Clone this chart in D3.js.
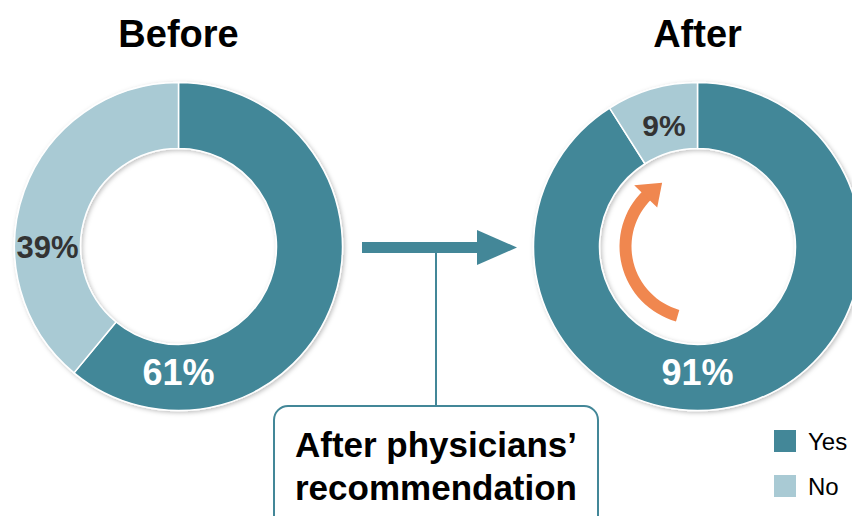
<!DOCTYPE html>
<meta charset="utf-8">
<style>
  body { margin: 0; background: #fff; }
  svg { display: block; font-family: "Liberation Sans", Arial, sans-serif; }
</style>
<body>
<div id="chart"></div>
<script src="https://d3js.org/d3.v7.min.js"></script>
<script>
  var categories = ["Yes", "No"];
  var before = [61, 39];
  var after = [91, 9];
  var titles = ["Before", "After"];
  var labelAngles = [[180, 270], [180, null]];   // null -> use slice centroid
  var boxLines = ["After physicians\u2019", "recommendation"];

  var width = 852, height = 516;
  var outerR = 164, innerR = 98;
  var colors = d3.scaleOrdinal().domain(categories).range(["#438798", "#a9cad4"]);
  var teal = "#438798";

  var svg = d3.select("#chart").append("svg")
    .attr("width", width)
    .attr("height", height);

  var defs = svg.append("defs");
  var shadow = defs.append("filter").attr("id", "shadow")
    .attr("x", "-10%").attr("y", "-10%").attr("width", "120%").attr("height", "120%");
  shadow.append("feDropShadow")
    .attr("dx", 1.5).attr("dy", 1.5).attr("stdDeviation", 2)
    .attr("flood-color", "#000").attr("flood-opacity", 0.25);

  var pie = d3.pie().sort(null).value(d => d.value);
  var arc = d3.arc().innerRadius(innerR).outerRadius(outerR);

  var centers = [[178.5, 246.5], [697.5, 246.5]];

  [before, after].forEach(function(vals, i) {
    var data = categories.map((c, j) => ({cat: c, value: vals[j]}));
    var g = svg.append("g").attr("transform", "translate(" + centers[i] + ")");

    g.append("g").attr("filter", "url(#shadow)")
      .selectAll("path")
      .data(pie(data))
      .enter().append("path")
      .attr("d", arc)
      .attr("fill", d => colors(d.data.cat))
      .attr("stroke", "#fff")
      .attr("stroke-width", 1.5);

    g.selectAll("text.pct")
      .data(pie(data))
      .enter().append("text")
      .attr("class", "pct")
      .attr("transform", function(d, j) {
        var a = labelAngles[i][j];
        if (a === null) {
          var c = arc.centroid(d);
          return "translate(" + (c[0] + 3) + "," + (c[1] + 4) + ")";
        }
        var r = a * Math.PI / 180;
        var lr = d.data.cat === "Yes" ? 126 : 131;
        return "translate(" + (lr * Math.sin(r)) + "," + (-lr * Math.cos(r)) + ")";
      })
      .attr("text-anchor", "middle")
      .attr("dy", "0.36em")
      .attr("font-weight", "bold")
      .attr("font-size", (d, j) => d.data.cat === "Yes" ? 36 : (i === 0 ? 31 : 30))
      .attr("fill", d => d.data.cat === "Yes" ? "#fff" : "#333")
      .text(d => d.data.value + "%");

    svg.append("text")
      .attr("x", centers[i][0])
      .attr("y", 47)
      .attr("text-anchor", "middle")
      .attr("font-weight", "bold")
      .attr("font-size", 38)
      .attr("fill", "#000")
      .text(titles[i]);
  });

  // orange curved arrow inside the "After" ring
  var ga = svg.append("g").attr("transform", "translate(" + centers[1] + ")");
  var deg = Math.PI / 180;
  var arrowR = 72;
  ga.append("path")
    .attr("d", d3.arc().innerRadius(arrowR - 6).outerRadius(arrowR + 6)
      .startAngle(196 * deg).endAngle(316 * deg)())
    .attr("fill", "#f0874f");
  var tipA = 331 * deg, baseA = 314 * deg;
  var pt = (a, r) => [r * Math.sin(a), -r * Math.cos(a)];
  ga.append("path")
    .attr("d", "M" + pt(baseA, arrowR - 16) + "L" + pt(tipA, arrowR + 1) + "L" + pt(baseA, arrowR + 16) + "Z")
    .attr("fill", "#f0874f");

  // connector arrow between donuts
  svg.append("line")
    .attr("x1", 362).attr("x2", 485)
    .attr("y1", 247.5).attr("y2", 247.5)
    .attr("stroke", teal).attr("stroke-width", 11);
  svg.append("path")
    .attr("d", "M477,230 L517,247.5 L477,265 Z")
    .attr("fill", teal);
  svg.append("line")
    .attr("x1", 436).attr("x2", 436)
    .attr("y1", 253).attr("y2", 406)
    .attr("stroke", teal).attr("stroke-width", 2);

  // callout box
  svg.append("rect")
    .attr("x", 274).attr("y", 406)
    .attr("width", 324).attr("height", 130)
    .attr("rx", 14)
    .attr("fill", "#fff")
    .attr("stroke", teal).attr("stroke-width", 2);
  svg.append("text")
    .attr("x", 436).attr("y", 457)
    .attr("text-anchor", "middle")
    .attr("font-weight", "bold")
    .attr("font-size", 35)
    .attr("fill", "#000")
    .selectAll("tspan")
    .data(boxLines)
    .enter().append("tspan")
    .attr("x", 436)
    .attr("dy", (d, i) => i === 0 ? 0 : 43)
    .text(d => d);

  // legend
  var legend = svg.append("g").attr("transform", "translate(774,430)");
  var item = legend.selectAll("g")
    .data(categories)
    .enter().append("g")
    .attr("transform", (d, i) => "translate(0," + (i * 45) + ")");
  item.append("rect")
    .attr("width", 22).attr("height", 22)
    .attr("fill", d => colors(d));
  item.append("text")
    .attr("x", 34).attr("y", 11)
    .attr("dy", "0.36em")
    .attr("font-size", 24)
    .attr("fill", "#000")
    .text(d => d);
</script>
</body>
